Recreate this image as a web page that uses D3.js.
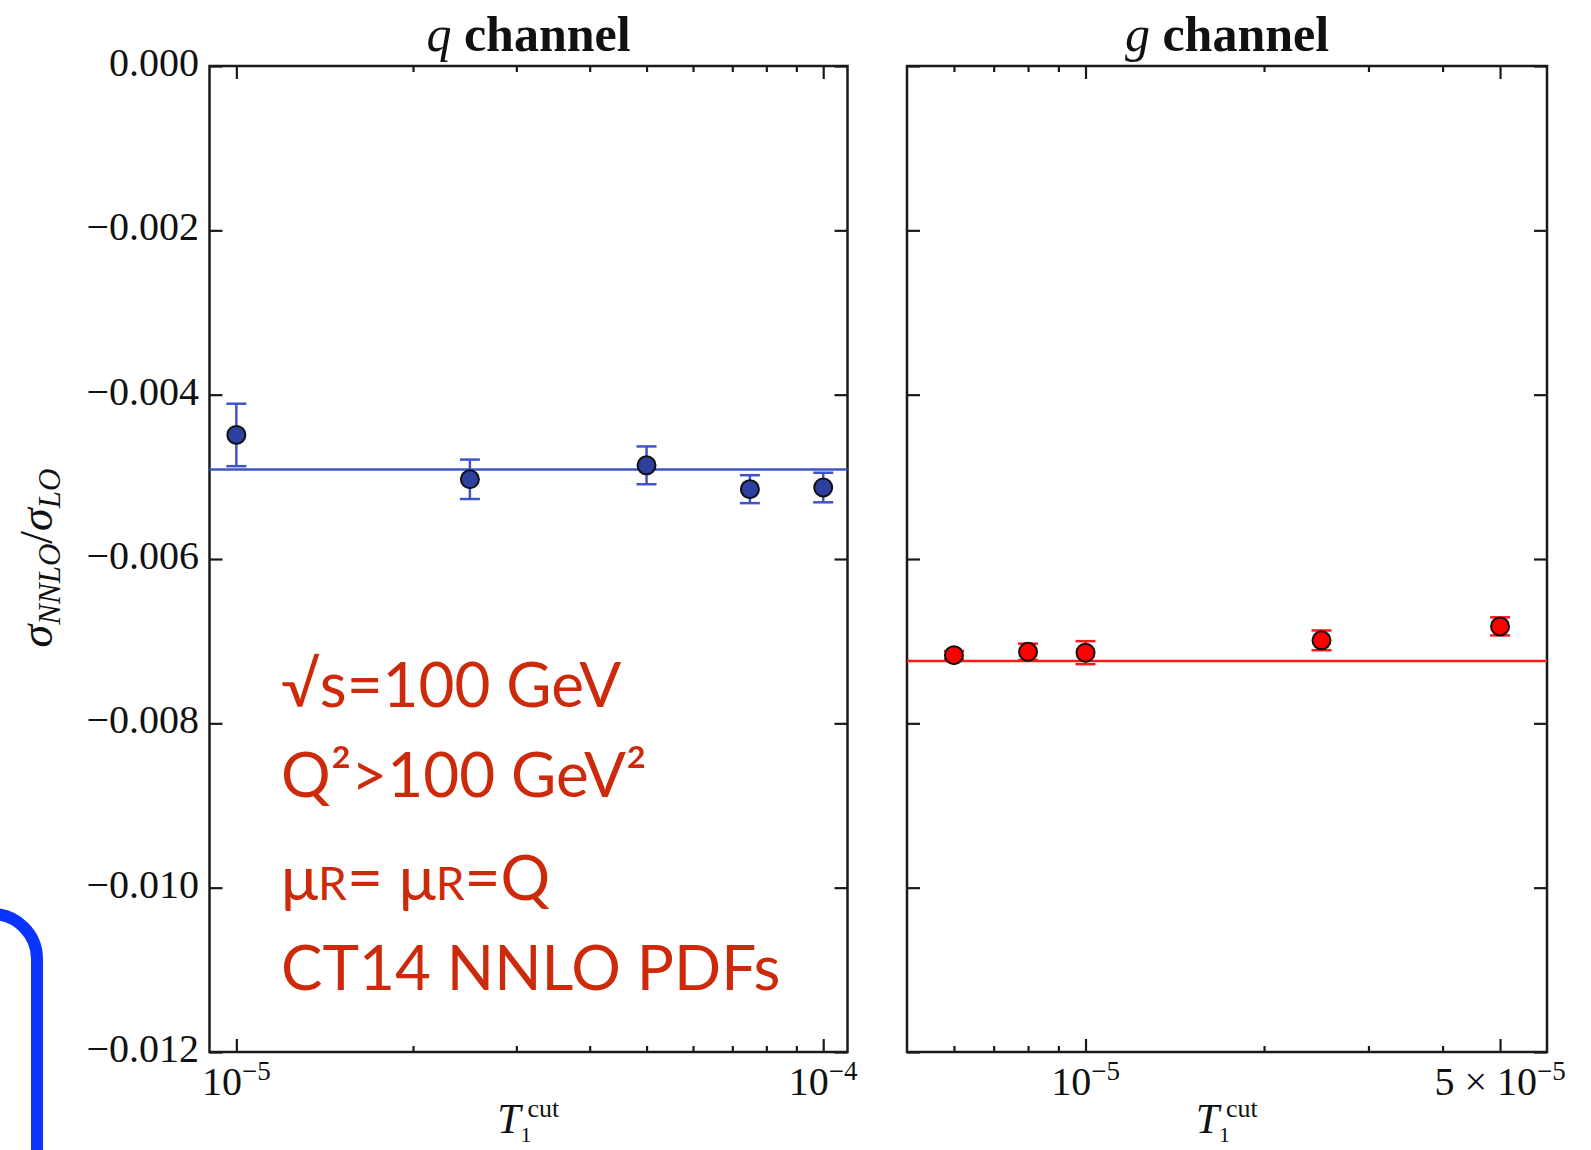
<!DOCTYPE html>
<html>
<head>
<meta charset="utf-8">
<script src="https://cdn.jsdelivr.net/npm/d3@7"></script>
<style>
body { margin: 0; background: #fff; }
svg { display: block; }
text { font-family: "Liberation Serif", serif; fill: #111; }
.note { font-family: Lato, "Open Sans", sans-serif; fill: #cc2a0a; }
</style>
</head>
<body>
<div id="chart"></div>
<script>
// q channel: tau cut, sigma ratio, error, fitted constant
var qTau = [1e-5, 2.5e-5, 5e-5, 7.5e-5, 1e-4],
    qVal = [-0.00449, -0.00503, -0.00486, -0.00515, -0.00513],
    qErr = [0.00038, 0.00024, 0.00023, 0.00017, 0.00018],
    qFit = -0.00491;

// g channel
var gTau = [6e-6, 8e-6, 1e-5, 2.5e-5, 5e-5],
    gVal = [-0.00717, -0.00713, -0.00714, -0.00699, -0.00682],
    gErr = [0.00005, 0.0001, 0.00014, 0.00012, 0.00011],
    gFit = -0.00724;

// axis ticks
var yTicks = [0, -0.002, -0.004, -0.006, -0.008, -0.010, -0.012],
    qMajor = [1e-5, 1e-4],
    qMajorLabels = [["10", "\u22125"], ["10", "\u22124"]],
    qMinor = [2e-5, 3e-5, 4e-5, 5e-5, 6e-5, 7e-5, 8e-5, 9e-5],
    gMajor = [1e-5, 5e-5],
    gMajorLabels = [["10", "\u22125"], ["5 \u00d7 10", "\u22125"]],
    gMinor = [6e-6, 7e-6, 8e-6, 9e-6, 2e-5, 3e-5, 4e-5];

var notes = ["\u221as=100 GeV", "Q\u00b2>100 GeV\u00b2", "mu", "CT14 NNLO PDFs"];

var width = 1591, height = 1150,
    plotTop = 66, plotBottom = 1052;

var svg = d3.select("#chart").append("svg")
  .attr("width", width)
  .attr("height", height);

var y = d3.scaleLinear().domain([-0.012, 0]).range([plotBottom, plotTop]);

function panel(opt) {
  var x = d3.scaleLog().domain(opt.domain).range([opt.x0, opt.x1]);
  var g = svg.append("g").attr("class", "panel");
  var mid = (opt.x0 + opt.x1) / 2;

  // ticks on all four sides, pointing inwards
  function tickAxis(axis, values, size, tx, ty) {
    var a = g.append("g")
      .attr("transform", "translate(" + tx + "," + ty + ")")
      .call(axis.tickValues(values).tickSizeInner(-size).tickSizeOuter(0).tickFormat(""));
    a.select(".domain").remove();
    a.selectAll("line").attr("stroke", "#1a1a1a").attr("stroke-width", 2.2);
  }
  tickAxis(d3.axisBottom(x), opt.major, 13, 0, plotBottom);
  tickAxis(d3.axisBottom(x), opt.minor, 6, 0, plotBottom);
  tickAxis(d3.axisTop(x), opt.major, 13, 0, plotTop);
  tickAxis(d3.axisTop(x), opt.minor, 6, 0, plotTop);
  tickAxis(d3.axisLeft(y), yTicks, 13, opt.x0, 0);
  tickAxis(d3.axisRight(y), yTicks, 13, opt.x1, 0);

  g.append("rect")
    .attr("x", opt.x0).attr("y", plotTop)
    .attr("width", opt.x1 - opt.x0).attr("height", plotBottom - plotTop)
    .attr("fill", "none").attr("stroke", "#1a1a1a").attr("stroke-width", 2.5);

  // x tick labels with superscripts
  opt.major.forEach(function(v, i) {
    var t = g.append("text")
      .attr("x", x(v)).attr("y", plotBottom + 43)
      .attr("text-anchor", "middle")
      .attr("font-size", 40);
    t.append("tspan").text(opt.labels[i][0]);
    t.append("tspan").attr("font-size", 27).attr("dy", -15).text(opt.labels[i][1]);
  });

  // title
  var title = g.append("text")
    .attr("x", mid).attr("y", 51)
    .attr("text-anchor", "middle").attr("font-size", 50).attr("font-weight", "bold");
  title.append("tspan").attr("font-style", "italic").attr("font-weight", "normal").text(opt.letter);
  title.append("tspan").text(" channel");

  // x axis title: T with sub 1 and sup cut
  g.append("text")
    .attr("x", mid - 8).attr("y", 1133)
    .attr("text-anchor", "end").attr("font-size", 42).attr("font-style", "italic")
    .text("T");
  g.append("text")
    .attr("x", mid - 1).attr("y", 1117)
    .attr("font-size", 26)
    .text("cut");
  g.append("text")
    .attr("x", mid - 8).attr("y", 1142)
    .attr("font-size", 22)
    .text("1");

  // fitted constant
  g.append("line")
    .attr("x1", opt.x0).attr("x2", opt.x1)
    .attr("y1", y(opt.fit)).attr("y2", y(opt.fit))
    .attr("stroke", opt.line).attr("stroke-width", 2.5);

  var pts = opt.tau.map(function(t, i) { return {t: t, v: opt.val[i], e: opt.err[i]}; });

  var eb = g.append("g").selectAll("g").data(pts).enter().append("g")
    .attr("stroke", opt.line).attr("stroke-width", 2.5);
  eb.append("line")
    .attr("x1", function(d) { return x(d.t); }).attr("x2", function(d) { return x(d.t); })
    .attr("y1", function(d) { return y(d.v + d.e); }).attr("y2", function(d) { return y(d.v - d.e); });
  [1, -1].forEach(function(s) {
    eb.append("line")
      .attr("x1", function(d) { return x(d.t) - 10; }).attr("x2", function(d) { return x(d.t) + 10; })
      .attr("y1", function(d) { return y(d.v + s * d.e); }).attr("y2", function(d) { return y(d.v + s * d.e); });
  });

  g.append("g").selectAll("circle").data(pts).enter().append("circle")
    .attr("cx", function(d) { return x(d.t); })
    .attr("cy", function(d) { return y(d.v); })
    .attr("r", 9)
    .attr("fill", opt.fill)
    .attr("stroke", "#111").attr("stroke-width", 2);
}

panel({x0: 209.5, x1: 847.5, domain: [9e-6, 1.1e-4], major: qMajor, minor: qMinor,
  labels: qMajorLabels, letter: "q", tau: qTau, val: qVal, err: qErr, fit: qFit,
  line: "#3f55c4", fill: "#2d3f9f"});
panel({x0: 907, x1: 1547, domain: [5e-6, 6e-5], major: gMajor, minor: gMinor,
  labels: gMajorLabels, letter: "g", tau: gTau, val: gVal, err: gErr, fit: gFit,
  line: "#ff1a1a", fill: "#ff0000"});

// y tick labels (left panel only)
svg.append("g").selectAll("text").data(yTicks).enter().append("text")
  .attr("x", 199).attr("y", function(d) { return y(d) + 10; })
  .attr("text-anchor", "end").attr("font-size", 40)
  .text(function(d) { return d === 0 ? "0.000" : "\u2212" + d3.format(".3f")(-d); });

// y axis title
var yl = svg.append("text")
  .attr("transform", "translate(52,558) rotate(-90)")
  .attr("text-anchor", "middle").attr("font-style", "italic").attr("font-size", 46);
yl.append("tspan").text("\u03c3");
yl.append("tspan").attr("font-size", 31).attr("dy", 8).text("NNLO");
yl.append("tspan").attr("font-style", "normal").attr("dy", -8).text("/");
yl.append("tspan").text("\u03c3");
yl.append("tspan").attr("font-size", 31).attr("dy", 8).text("LO");

// annotations
var noteY = [707, 797, 900, 990];
noteY.forEach(function(yy, i) {
  var t = svg.append("text").attr("class", "note")
    .attr("x", 281).attr("y", yy).attr("font-size", 62);
  if (notes[i] === "mu") {
    t.append("tspan").text("\u03bc");
    t.append("tspan").attr("font-size", 46).text("R");
    t.append("tspan").text("= \u03bc");
    t.append("tspan").attr("font-size", 46).text("R");
    t.append("tspan").text("=Q");
  } else {
    t.text(notes[i]);
  }
});

// blue bracket at the lower left
svg.append("path")
  .attr("d", "M-20,914 H-8 A45,45 0 0 1 37,959 V1170")
  .attr("fill", "none").attr("stroke", "#0a33ff").attr("stroke-width", 12);
</script>
</body>
</html>
